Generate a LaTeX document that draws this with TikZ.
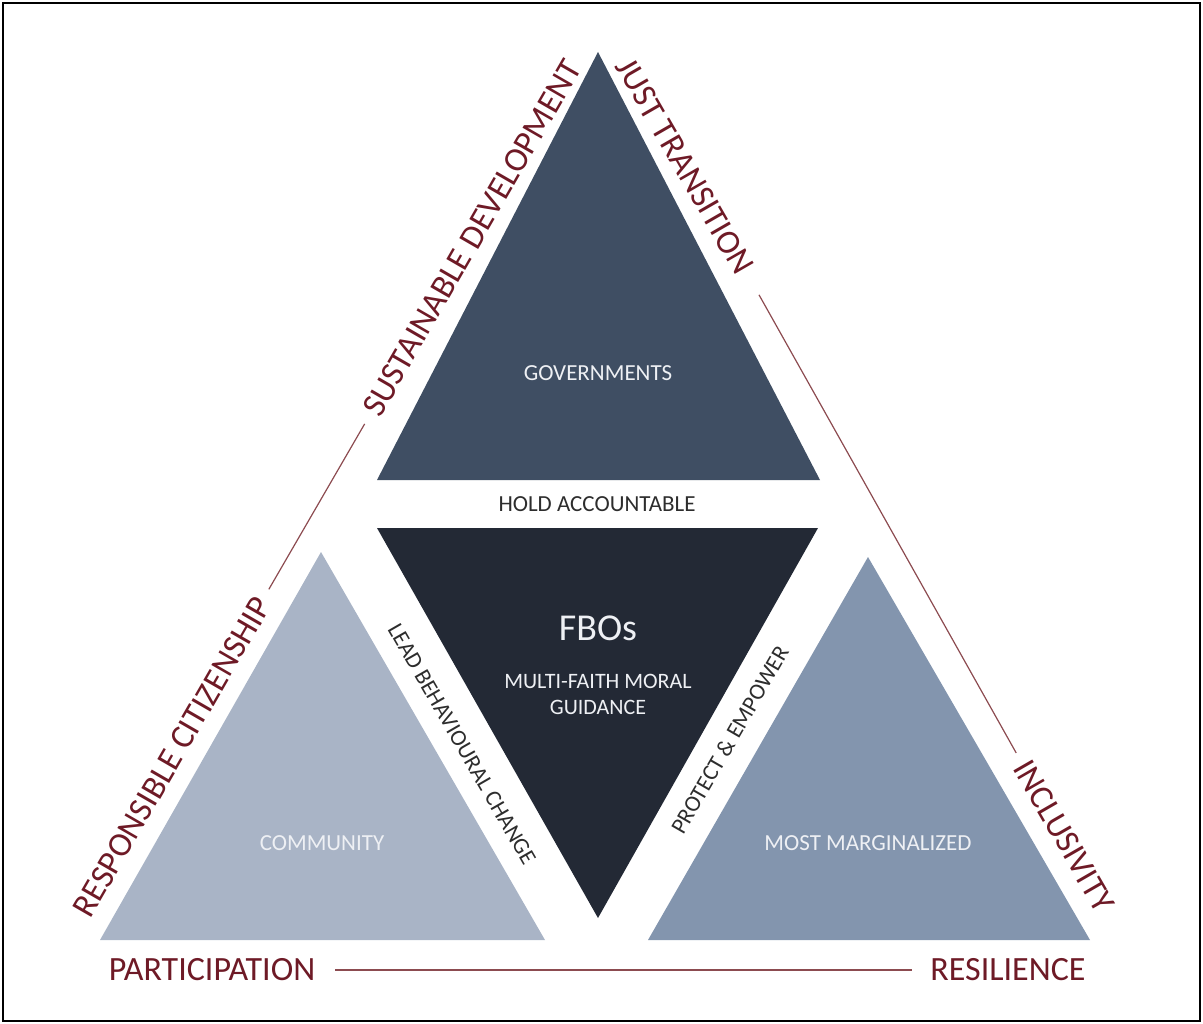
\documentclass[tikz,border=0pt]{standalone}
\usepackage{fontspec}
\setmainfont{Carlito}
\definecolor{govc}{RGB}{63,78,99}
\definecolor{fboc}{RGB}{35,41,53}
\definecolor{comc}{RGB}{169,180,198}
\definecolor{marc}{RGB}{131,149,174}
\definecolor{labred}{RGB}{110,26,38}
\definecolor{linered}{RGB}{140,75,80}
\definecolor{bandgray}{RGB}{45,45,45}
\definecolor{wtxt}{RGB}{238,240,244}
\begin{document}
\begin{tikzpicture}[x=1pt,y=-1pt,
  lab/.style={font=\fontsize{34}{40}\selectfont, text=labred, inner sep=0pt, text height=21.9pt, text depth=0pt},
  wt/.style={font=\fontsize{23}{28}\selectfont, text=wtxt, inner sep=0pt, text height=14.8pt, text depth=0pt},
  band/.style={font=\fontsize{23}{28}\selectfont, text=bandgray, inner sep=0pt, text height=14.8pt, text depth=0pt},
  conn/.style={draw=linered, line width=1.2pt}]
\useasboundingbox (0,0) rectangle (1203,1024);
\draw[line width=2.5pt] (3,3) rectangle (1200,1021);

% triangles
\fill[govc] (598,52) -- (377,480) -- (820,480) -- cycle;
\fill[fboc] (377,528) -- (818,528) -- (598,918) -- cycle;
\fill[comc] (321,552) -- (100,940) -- (545,940) -- cycle;
\fill[marc] (868,557) -- (648,940) -- (1090,940) -- cycle;

% texts inside triangles
\node[wt] (gov) at (598,373) {GOVERNMENTS};
\node[wt, font=\fontsize{38}{44}\selectfont, text height=24.5pt] (fbo) at (598,628) {FBOs};
\node[wt, font=\fontsize{22}{26}\selectfont, text height=14.2pt] (mf1) at (598,681) {MULTI-FAITH MORAL};
\node[wt, font=\fontsize{22}{26}\selectfont, text height=14.2pt] (mf2) at (598,707) {GUIDANCE};
\node[wt] (com) at (322,843) {COMMUNITY};
\node[wt] (mar) at (868,843) {MOST MARGINALIZED};

% band labels
\node[band] (hold) at (597,504) {HOLD ACCOUNTABLE};
\node[band, rotate=-60] (lead) at (462,744) {LEAD BEHAVIOURAL CHANGE};
\node[band, rotate=60] (prot) at (730,740) {PROTECT \& EMPOWER};

% outer labels
\node[lab, rotate=60] (sust) at (472,238) {SUSTAINABLE DEVELOPMENT};
\node[lab, rotate=-60] (just) at (685,166) {JUST TRANSITION};
\node[lab, rotate=60] (resp) at (172,757) {RESPONSIBLE CITIZENSHIP};
\node[lab, rotate=-60] (incl) at (1064,836) {INCLUSIVITY};
\node[lab] (part) at (212,970) {PARTICIPATION};
\node[lab] (resi) at (1008,970) {RESILIENCE};

% connectors
\draw[conn, shorten <=12pt, shorten >=12pt] (resp.east) -- (sust.west);
\draw[conn, shorten <=27pt, shorten >=11pt] (just.east) -- (incl.west);
\draw[conn, shorten <=20pt, shorten >=18pt] (part.east) -- (resi.west);
\end{tikzpicture}
\end{document}
